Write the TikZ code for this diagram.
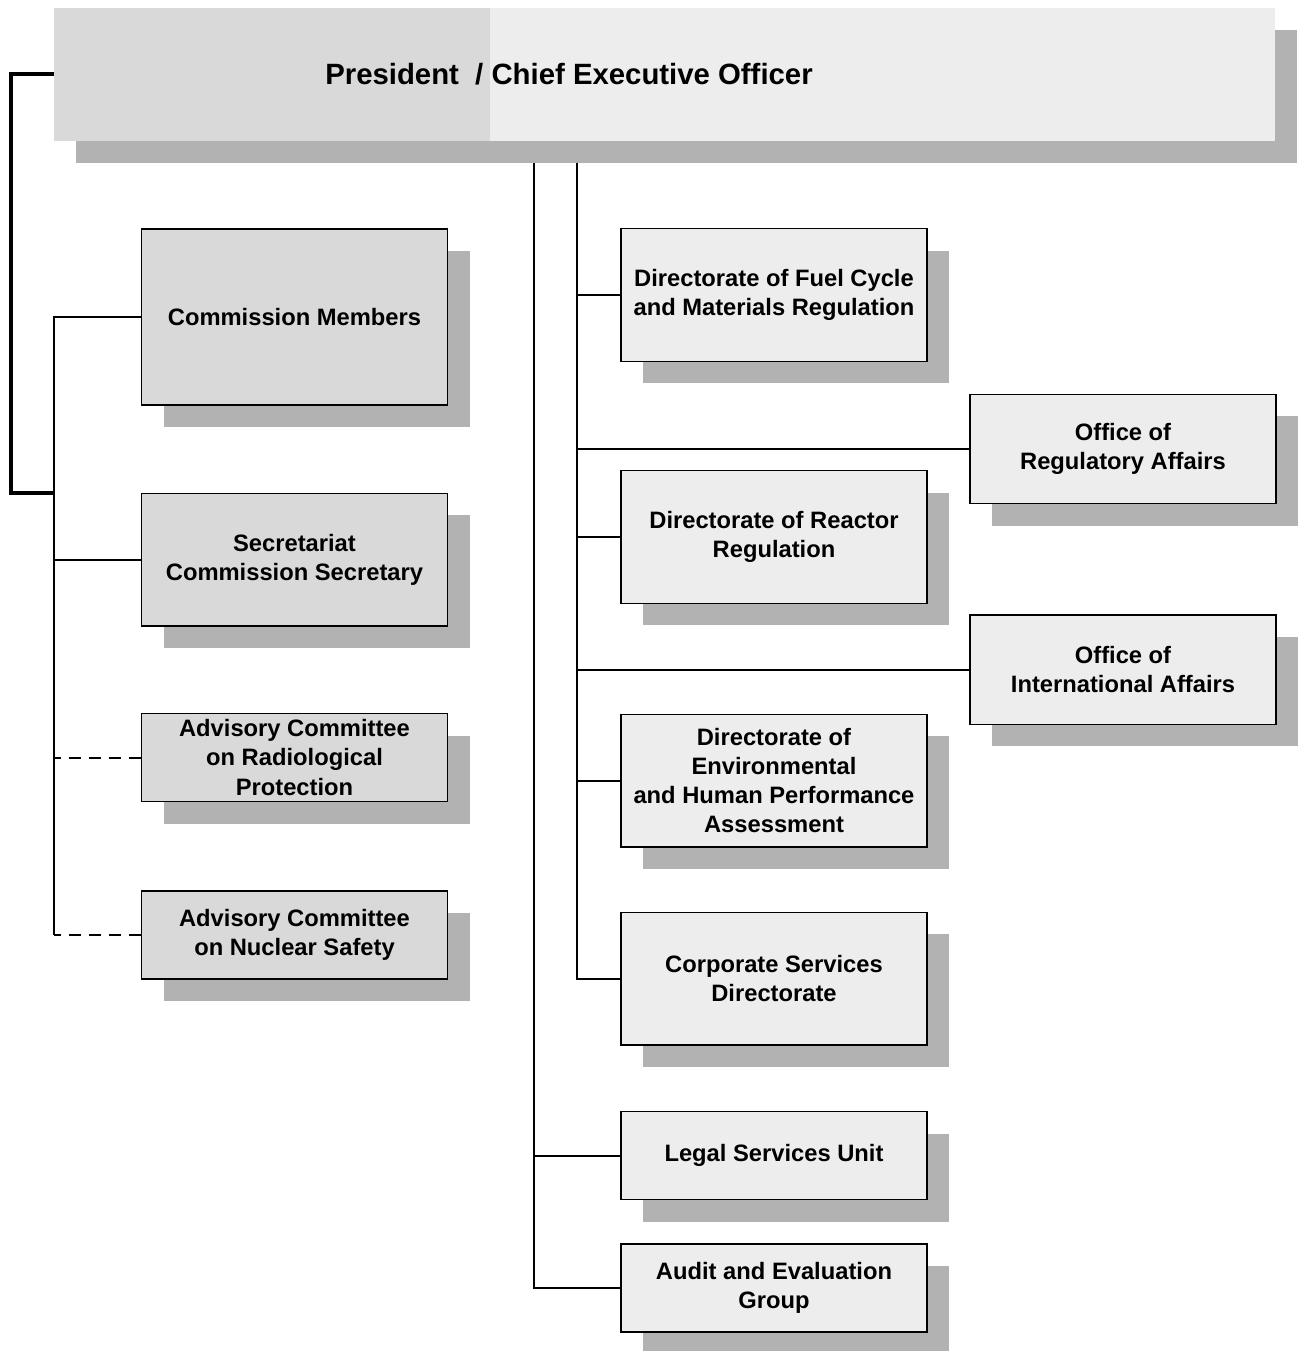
\documentclass[tikz,border=0pt]{standalone}
\usepackage{fontspec}
\setmainfont{Liberation Sans}
\usetikzlibrary{shadows}

\tikzset{every picture/.style={line width=0.75pt}}
\definecolor{boxdark}{RGB}{217,217,217}
\definecolor{boxlight}{RGB}{237,237,237}
\definecolor{shadowgray}{RGB}{178,178,178}

\begin{document}
\begin{tikzpicture}[x=0.75pt,y=0.75pt,yscale=-1,xscale=1,
  boxshadow/.style={drop shadow={shadow xshift=16.5pt,shadow yshift=-16.5pt,fill=shadowgray,opacity=1}},
  unit/.style={draw=black,line width=1pt,boxshadow,minimum width=229.5pt,inner sep=0pt,align=center,font=\fontsize{17.8pt}{21.8pt}\selectfont\bfseries},
  board/.style={unit,fill=boxdark},
  office/.style={unit,fill=boxlight},
  tall/.style={minimum height=132pt},
  mid/.style={minimum height=99.5pt},
  short/.style={minimum height=66pt},
  wide/.style={minimum height=82pt},
  link/.style={line width=1.5pt},
  advice/.style={link,dash pattern=on 9pt off 6pt},
  bracket/.style={line width=3pt,line join=miter},
  banner/.style={fill=boxlight,boxshadow,minimum width=915.75pt,minimum height=99.4pt,inner sep=0pt,
    path picture={\fill[boxdark] (path picture bounding box.north west) rectangle ([xshift=327pt]path picture bounding box.south west);}}
]
%set diagram to the size of the page
\path[use as bounding box] (0,0) rectangle (1302,1351);

%Shape: Banner [ceo]
\node[banner] (ceo) at (664.5,74.25) {};
% Text Node
\node[font=\fontsize{22pt}{26pt}\selectfont\bfseries,inner sep=0pt] (ceotitle) at (569,74) {President\ \ / Chief Executive Officer};

%Commission side
\node[board,tall] (comm) at (294.5,317) {Commission Members};
\node[board,mid] (secr) at (294.5,559.5) {Secretariat\\Commission Secretary};
\node[board,short] (advrad) at (294.5,757.5) {Advisory Committee\\on Radiological\\Protection};
\node[board,short] (advnuc) at (294.5,935) {Advisory Committee\\on Nuclear Safety};

%Directorates
\node[office,mid] (fuel) at (774,295) {Directorate of Fuel Cycle\\and Materials Regulation};
\node[office,mid] (reactor) at (774,537) {Directorate of Reactor\\Regulation};
\node[office,mid] (env) at (774,780.5) {Directorate of\\Environmental\\and Human Performance\\Assessment};
\node[office,mid] (corp) at (774,978.5) {Corporate Services\\Directorate};
\node[office,short] (legal) at (774,1155.5) {Legal Services Unit};
\node[office,short] (audit) at (774,1288) {Audit and Evaluation\\Group};

%Offices
\node[office,wide] (regaff) at (1123,449) {Office of\\Regulatory Affairs};
\node[office,wide] (intaff) at (1123,669.5) {Office of\\International Affairs};

%Bus ends
\coordinate (lbus) at (54,935);
\coordinate (brk) at (54,493);
\coordinate (staffbus) at (534,162.7);
\coordinate (dirbus) at (577,162.7);

%Bracket
\draw[bracket] (ceo.west) -- ++(-43,0) |- (brk);
%Straight Lines
\draw[link] (comm.west) -| (lbus);
\draw[link] (secr.west) -- (secr.west -| lbus);
\draw[advice] (advrad.west) -- (advrad.west -| lbus);
\draw[advice] (advnuc.west) -- (lbus);
%Straight Lines
\draw[link] (staffbus) |- (audit.west);
\draw[link] (legal.west -| staffbus) -- (legal.west);
%Straight Lines
\draw[link] (dirbus) |- (corp.west);
\draw[link] (fuel.west -| dirbus) -- (fuel.west);
\draw[link] (reactor.west -| dirbus) -- (reactor.west);
\draw[link] (env.west -| dirbus) -- (env.west);
\draw[link] (regaff.west -| dirbus) -- (regaff.west);
\draw[link] (intaff.west -| dirbus) -- (intaff.west);

\end{tikzpicture}
\end{document}
